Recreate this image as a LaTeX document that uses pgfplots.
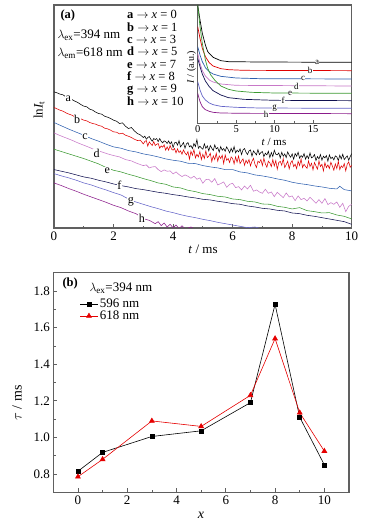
\documentclass[border=0pt]{standalone}
\usepackage{fontspec}
\setmainfont{Liberation Serif}
\usepackage{pgfplots}
\pgfplotsset{compat=1.18}
\definecolor{cA}{HTML}{000000}
\definecolor{cB}{HTML}{E00000}
\definecolor{cC}{HTML}{2E5FAF}
\definecolor{cD}{HTML}{C878C8}
\definecolor{cE}{HTML}{3C9A32}
\definecolor{cF}{HTML}{101050}
\definecolor{cG}{HTML}{6464C8}
\definecolor{cH}{HTML}{8B1C8B}
\definecolor{frame}{HTML}{606060}
\pgfplotsset{
  myframe/.style={
    axis line style={draw=frame, line width=1.1pt},
    tick style={draw=frame, line width=0.7pt},
    major tick length=3.8pt, minor tick length=2.2pt,
    tick align=inside,
    /pgf/number format/assume math mode=true,
  },
}
\begin{document}
\begin{tikzpicture}[x=1pt,y=1pt]
\path[use as bounding box] (0,0) rectangle (379,531);
% ---------------- panel (a) main ----------------
\begin{axis}[myframe, at={(54pt,303pt)}, anchor=south west, scale only axis,
  width=297.7pt, height=223pt, xmin=0, xmax=10, ymin=-683, ymax=-15,
  xtick={0,2,...,10}, minor x tick num=1, ytick=\empty, xtick pos=left,
  ticklabel style={font=\fontsize{13}{14}\selectfont},
  every axis plot/.append style={line width=0.55pt, mark=none}]
\addplot[cA] coordinates {(0.0,-275)(0.1,-278)(0.2,-282)(0.3,-284)(0.4,-290)(0.5,-295)(0.6,-298)(0.7,-303)(0.8,-307)(0.9,-313)(1.0,-318)(1.1,-320)(1.2,-327)(1.3,-330)(1.4,-336)(1.5,-340)(1.6,-342)(1.7,-348)(1.8,-351)(1.9,-355)(2.0,-360)(2.1,-363)(2.2,-370)(2.3,-368)(2.4,-378)(2.5,-385)(2.6,-382)(2.7,-392)(2.8,-400)(2.9,-404)
(3.00,-412)(3.05,-408)(3.10,-417)(3.15,-412)(3.20,-409)(3.25,-417)(3.30,-423)(3.35,-415)(3.40,-418)(3.45,-415)(3.50,-424)(3.55,-415)(3.60,-423)(3.65,-428)(3.70,-422)(3.75,-424)(3.80,-430)(3.85,-422)(3.90,-431)(3.95,-425)
(4.00,-442)(4.05,-428)(4.10,-426)(4.15,-435)(4.20,-421)(4.25,-440)(4.30,-434)(4.35,-427)(4.40,-444)(4.45,-431)(4.50,-427)(4.55,-440)(4.60,-436)(4.65,-445)(4.70,-430)(4.75,-439)(4.80,-418)(4.85,-444)(4.90,-438)(4.95,-443)
(5.00,-447)(5.05,-431)(5.10,-444)(5.15,-437)(5.20,-452)(5.25,-436)(5.30,-444)(5.35,-451)(5.40,-434)(5.45,-446)(5.50,-442)(5.55,-456)(5.60,-439)(5.65,-450)(5.70,-445)(5.75,-453)(5.80,-440)(5.85,-448)(5.90,-458)(5.95,-444)
(6.00,-455)(6.05,-439)(6.10,-458)(6.15,-450)(6.20,-455)(6.25,-446)(6.30,-463)(6.35,-449)(6.40,-445)(6.45,-456)(6.50,-463)(6.55,-452)(6.60,-449)(6.65,-468)(6.70,-452)(6.75,-458)(6.80,-464)(6.85,-448)(6.90,-463)(6.95,-457)
(7.00,-454)(7.05,-469)(7.10,-459)(7.15,-464)(7.20,-453)(7.25,-472)(7.30,-457)(7.35,-469)(7.40,-450)(7.45,-462)(7.50,-464)(7.55,-458)(7.60,-473)(7.65,-456)(7.70,-468)(7.75,-461)(7.80,-472)(7.85,-455)(7.90,-465)(7.95,-471)
(8.00,-461)(8.05,-477)(8.10,-460)(8.15,-468)(8.20,-456)(8.25,-474)(8.30,-466)(8.35,-471)(8.40,-460)(8.45,-477)(8.50,-466)(8.55,-475)(8.60,-458)(8.65,-473)(8.70,-470)(8.75,-463)(8.80,-481)(8.85,-469)(8.90,-476)(8.95,-463)
(9.00,-480)(9.05,-468)(9.10,-473)(9.15,-466)(9.20,-483)(9.25,-464)(9.30,-475)(9.35,-471)(9.40,-479)(9.45,-467)(9.50,-470)(9.55,-481)(9.60,-465)(9.65,-476)(9.70,-462)(9.75,-478)(9.80,-472)(9.85,-467)(9.90,-480)(9.95,-469)(10.0,-460)};
\addplot[cB] coordinates {(0.0,-322)(0.1,-326)(0.2,-330)(0.3,-333)(0.4,-338)(0.5,-342)(0.6,-345)(0.7,-350)(0.8,-354)(0.9,-356)(1.0,-360)(1.1,-362)(1.2,-367)(1.3,-370)(1.4,-372)(1.5,-376)(1.6,-378)(1.7,-384)(1.8,-386)(1.9,-390)(2.0,-395)(2.1,-396)(2.2,-401)(2.3,-399)(2.4,-405)(2.5,-408)(2.6,-412)(2.7,-417)(2.8,-421)(2.9,-420)
(3.00,-431)(3.05,-424)(3.10,-421)(3.15,-438)(3.20,-425)(3.25,-431)(3.30,-436)(3.35,-424)(3.40,-436)(3.45,-432)(3.50,-430)(3.55,-444)(3.60,-437)(3.65,-441)(3.70,-434)(3.75,-450)(3.80,-440)(3.85,-450)(3.90,-436)(3.95,-447)
(4.00,-450)(4.05,-445)(4.10,-458)(4.15,-446)(4.20,-457)(4.25,-452)(4.30,-462)(4.35,-449)(4.40,-458)(4.45,-464)(4.50,-454)(4.55,-477)(4.60,-453)(4.65,-465)(4.70,-448)(4.75,-473)(4.80,-462)(4.85,-470)(4.90,-454)(4.95,-478)
(5.00,-462)(5.05,-475)(5.10,-452)(5.15,-472)(5.20,-468)(5.25,-459)(5.30,-484)(5.35,-467)(5.40,-478)(5.45,-459)(5.50,-483)(5.55,-467)(5.60,-475)(5.65,-465)(5.70,-490)(5.75,-464)(5.80,-480)(5.85,-475)(5.90,-487)(5.95,-470)
(6.00,-475)(6.05,-491)(6.10,-470)(6.15,-486)(6.20,-467)(6.25,-490)(6.30,-482)(6.35,-476)(6.40,-495)(6.45,-480)(6.50,-489)(6.55,-478)(6.60,-497)(6.65,-483)(6.70,-474)(6.75,-492)(6.80,-502)(6.85,-483)(6.90,-487)(6.95,-478)
(7.00,-496)(7.05,-474)(7.10,-491)(7.15,-501)(7.20,-483)(7.25,-488)(7.30,-499)(7.35,-478)(7.40,-497)(7.45,-481)(7.50,-507)(7.55,-487)(7.60,-483)(7.65,-495)(7.70,-475)(7.75,-502)(7.80,-493)(7.85,-483)(7.90,-506)(7.95,-488)
(8.00,-481)(8.05,-499)(8.10,-492)(8.15,-505)(8.20,-483)(8.25,-496)(8.30,-476)(8.35,-502)(8.40,-492)(8.45,-499)(8.50,-504)(8.55,-482)(8.60,-499)(8.65,-489)(8.70,-509)(8.75,-487)(8.80,-497)(8.85,-507)(8.90,-482)(8.95,-499)
(9.00,-492)(9.05,-512)(9.10,-487)(9.15,-502)(9.20,-494)(9.25,-505)(9.30,-486)(9.35,-497)(9.40,-510)(9.45,-491)(9.50,-505)(9.55,-483)(9.60,-508)(9.65,-497)(9.70,-502)(9.75,-490)(9.80,-512)(9.85,-492)(9.90,-485)(9.95,-501)(10.0,-495)};
\addplot[cC] coordinates {(0,-367)(0.25,-377)(0.5,-387)(0.75,-396)(1.0,-405)(1.25,-415)(1.5,-423)(1.75,-432)(2.0,-440)(2.25,-444)(2.5,-451)(2.75,-455)(3.0,-461)(3.25,-465)(3.5,-470)(3.75,-476)(4.0,-480)(4.25,-483)(4.5,-489)(4.75,-490)(5.0,-496)(5.25,-500)(5.5,-503)(5.75,-508)(6.0,-508)(6.25,-515)(6.5,-518)(6.75,-524)(7.0,-527)(7.25,-531)(7.5,-536)(7.75,-540)(8.0,-546)(8.25,-550)(8.5,-553)(8.75,-557)(9.0,-560)(9.25,-564)(9.5,-566)(9.6,-558)(9.75,-568)(10.0,-572)};
\addplot[cD] coordinates {(0,-398)(0.2,-406)(0.4,-413)(0.6,-420)(0.8,-428)(1.0,-435)(1.2,-442)(1.4,-450)(1.6,-455)(1.8,-461)(2.0,-466)(2.2,-470)(2.4,-478)(2.6,-482)(2.8,-490)
(3.0,-496)(3.1,-494)(3.2,-503)(3.3,-500)(3.4,-499)(3.5,-508)(3.6,-514)(3.7,-509)(3.8,-513)(3.9,-512)(4.0,-521)(4.1,-515)(4.2,-523)(4.3,-529)(4.4,-524)(4.5,-528)(4.6,-534)(4.7,-528)(4.8,-537)(4.9,-533)
(5.0,-549)(5.1,-538)(5.2,-537)(5.3,-546)(5.4,-535)(5.5,-554)(5.6,-550)(5.7,-545)(5.8,-561)(5.9,-552)(6.0,-549)(6.1,-562)(6.2,-559)(6.3,-569)(6.4,-557)(6.5,-566)(6.6,-555)(6.7,-573)(6.8,-569)(6.9,-575)
(7.0,-579)(7.1,-567)(7.2,-579)(7.3,-575)(7.4,-589)(7.5,-576)(7.6,-584)(7.7,-592)(7.8,-578)(7.9,-590)(8.0,-587)(8.1,-601)(8.2,-587)(8.3,-598)(8.4,-594)(8.5,-602)(8.6,-591)(8.7,-600)(8.8,-609)(8.9,-598)
(9.0,-609)(9.1,-595)(9.2,-613)(9.3,-607)(9.4,-612)(9.5,-605)(9.6,-621)(9.7,-609)(9.8,-634)(9.9,-618)(10.0,-612)};
\addplot[cE] coordinates {(0,-447)(0.25,-454)(0.5,-461)(0.75,-468)(1.0,-475)(1.25,-483)(1.5,-491)(1.75,-502)(2.0,-510)(2.25,-515)(2.5,-522)(2.75,-528)(3.0,-535)(3.25,-541)(3.5,-548)(3.75,-552)(4.0,-560)(4.25,-563)(4.5,-570)(4.75,-574)(5.0,-580)(5.25,-583)(5.5,-588)(5.75,-590)(6.0,-596)(6.25,-598)(6.5,-603)(6.75,-605)(7.0,-611)(7.25,-612)(7.5,-618)(7.75,-621)(8.0,-626)(8.25,-622)(8.5,-631)(8.75,-634)(9.0,-638)(9.25,-637)(9.5,-644)(9.75,-648)(10.0,-656)};
\addplot[cF] coordinates {(0,-508)(0.25,-513)(0.5,-518)(0.75,-524)(1.0,-530)(1.25,-534)(1.5,-540)(1.75,-545)(2.0,-551)(2.25,-556)(2.5,-560)(2.75,-565)(3.0,-568)(3.25,-572)(3.5,-576)(3.75,-579)(4.0,-583)(4.25,-586)(4.5,-590)(4.75,-593)(5.0,-597)(5.25,-599)(5.5,-603)(5.75,-606)(6.0,-610)(6.25,-612)(6.5,-617)(6.75,-620)(7.0,-624)(7.25,-626)(7.5,-630)(7.75,-632)(8.0,-638)(8.25,-640)(8.5,-645)(8.75,-648)(9.0,-652)(9.25,-656)(9.5,-660)(9.75,-664)(10.0,-672)};
\addplot[cG] coordinates {(0,-520)(0.25,-527)(0.5,-533)(0.75,-540)(1.0,-548)(1.25,-554)(1.5,-562)(1.75,-569)(2.0,-577)(2.25,-584)(2.5,-596)(2.75,-605)(3.0,-612)(3.25,-619)(3.5,-625)(3.75,-632)(4.0,-637)(4.25,-643)(4.5,-648)(4.75,-652)(5.0,-657)(5.25,-661)(5.5,-666)(5.75,-670)(6.0,-674)(6.25,-678)(6.5,-682)(6.75,-680)(7.0,-686)};
\addplot[cH] coordinates {(0,-548)(0.25,-556)(0.5,-565)(0.75,-573)(1.0,-582)(1.25,-590)(1.5,-598)(1.75,-606)(2.0,-615)(2.25,-622)(2.5,-632)(2.75,-640)(3.0,-655)(3.2,-660)(3.4,-670)(3.5,-664)(3.6,-676)(3.7,-668)(3.8,-680)(3.9,-672)(4.0,-682)(4.1,-674)(4.2,-685)(4.3,-676)(4.4,-686)(4.6,-680)(4.8,-690)};
\begin{scope}[every node/.style={fill=white, inner sep=0.6pt, font=\fontsize{12}{13}\selectfont}]
\node at (axis cs:0.48,-297) {a};
\node at (axis cs:0.78,-357) {b};
\node at (axis cs:1.04,-410) {c};
\node at (axis cs:1.43,-460) {d};
\node at (axis cs:1.79,-510) {e};
\node at (axis cs:2.20,-555) {f};
\node at (axis cs:2.58,-603) {g};
\node at (axis cs:2.95,-655) {h};
\end{scope}
\end{axis}
% ---------------- inset ----------------
\begin{axis}[myframe, at={(197.7pt,408pt)}, anchor=south west, scale only axis,
  width=154pt, height=118pt, xmin=0, xmax=20, ymin=-369, ymax=-15,
  axis background/.style={fill=white},
  axis line style={draw=frame, line width=0.9pt},
  xtick={0,5,10,15}, minor x tick num=1, ytick=\empty, xtick pos=left,
  major tick length=3pt, minor tick length=1.8pt,
  ticklabel style={font=\fontsize{10.5}{11}\selectfont},
  xticklabel style={yshift=1pt},
  every axis plot/.append style={line width=0.7pt, mark=none}]
\addplot[cA] coordinates {(0,-15)(0.3,-60)(0.6,-100)(1,-135)(1.3,-155)(2,-172)(3,-182)(4,-185)(8,-186)(20,-187)};
\addplot[cB] coordinates {(0,-80)(0.3,-115)(0.6,-145)(1,-170)(1.5,-188)(2,-198)(3,-206)(4,-209)(6,-211)(20,-212)};
\addplot[cC] coordinates {(0,-140)(0.3,-165)(0.6,-185)(1,-203)(1.5,-215)(2,-222)(3,-229)(5,-234)(8,-236)(20,-237)};
\addplot[cD] coordinates {(0,-160)(0.3,-190)(0.6,-212)(1,-228)(1.5,-240)(2,-246)(3,-252)(5,-256)(20,-258)};
\addplot[cE] coordinates {(0,-15)(0.3,-80)(0.6,-130)(1,-180)(1.3,-205)(1.7,-225)(2.2,-240)(3,-258)(4,-268)(5,-273)(7,-277)(10,-279)(20,-280)};
\addplot[cF] coordinates {(0,-175)(0.3,-200)(0.6,-222)(1,-243)(1.5,-260)(2,-272)(3,-285)(4,-293)(6,-298)(10,-301)(20,-302)};
\addplot[cG] coordinates {(0,-245)(0.3,-270)(0.6,-288)(1,-300)(1.5,-309)(2,-314)(3,-319)(5,-322)(8,-324)(20,-325)};
\addplot[cH] coordinates {(0,-280)(0.3,-305)(0.6,-320)(1,-329)(1.5,-334)(2,-337)(3,-339)(6,-340)(20,-341)};
\begin{scope}[every node/.style={fill=white, inner sep=0.3pt, font=\fontsize{9}{10}\selectfont}]
\node at (axis cs:15.5,-186) {a};
\node at (axis cs:14.6,-212) {b};
\node at (axis cs:13.7,-236) {c};
\node at (axis cs:12.8,-259) {d};
\node at (axis cs:12.0,-280) {e};
\node at (axis cs:11.1,-301) {f};
\node at (axis cs:10.0,-325) {g};
\node at (axis cs:8.9,-342) {h};
\end{scope}
\end{axis}
% texts panel (a)
\node[font=\fontsize{10}{11}\selectfont, rotate=90] at (191.5,464) {\textit{I} / (a.u.)};
\node[font=\fontsize{11}{12}\selectfont] at (274,389) {\textit{t} / ms};
\node[font=\fontsize{13}{14}\selectfont] at (203,282) {\textit{t} / ms};
\node[font=\fontsize{13}{14}\selectfont, rotate=90] at (39,421) {ln\textit{I}\textsubscript{t}};
\node[font=\fontsize{12.5}{13}\selectfont\bfseries, anchor=base west] at (57,512) {(a)};
\node[font=\fontsize{13}{14}\selectfont, anchor=base west] at (54,492) {$\lambda_{\mathrm{ex}}$=394 nm};
\node[font=\fontsize{13}{14}\selectfont, anchor=base west] at (54,474) {$\lambda_{\mathrm{em}}$=618 nm};
\begin{scope}[every node/.style={font=\fontsize{12.5}{13}\selectfont, anchor=base west, inner sep=0pt}]
\node at (127,512.0) {\textbf{a} $\rightarrow$ \textit{x} = 0};
\node at (127,499.7) {\textbf{b} $\rightarrow$ \textit{x} = 1};
\node at (127,487.4) {\textbf{c} $\rightarrow$ \textit{x} = 3};
\node at (127,475.1) {\textbf{d} $\rightarrow$ \textit{x} = 5};
\node at (127,462.8) {\textbf{e} $\rightarrow$ \textit{x} = 7};
\node at (127,450.5) {\textbf{f} $\rightarrow$ \textit{x} = 8};
\node at (127,438.2) {\textbf{g} $\rightarrow$ \textit{x} = 9};
\node at (127,425.9) {\textbf{h} $\rightarrow$ \textit{x} = 10};
\end{scope}
% ---------------- panel (b) ----------------
\begin{axis}[myframe, at={(53.3pt,38.7pt)}, anchor=south west, scale only axis,
  width=295.7pt, height=219.6pt, xmin=-1, xmax=11, ymin=0.7, ymax=1.9,
  xtick={0,2,...,10}, ytick={0.8,1.0,1.2,1.4,1.6,1.8}, minor x tick num=1, minor y tick num=1,
  tick pos=left,
  yticklabel style={/pgf/number format/fixed, /pgf/number format/fixed zerofill, /pgf/number format/precision=1},
  ticklabel style={font=\fontsize{13}{14}\selectfont},
  legend style={draw=none, fill=none, at={(0.08,0.90)}, anchor=north west,
    font=\fontsize{13}{14}\selectfont, row sep=-2pt},
  legend cell align=left]
\addplot[black, line width=0.6pt, mark=square*, mark size=2pt] coordinates {(0,0.815)(1,0.918)(3,1.005)(5,1.036)(7,1.19)(8,1.727)(9,1.11)(10,0.85)};
\addlegendentry{596 nm}
\addplot[red!90!black, line width=0.6pt, mark=triangle*, mark size=2.8pt, mark options={fill=red!90!black}] coordinates {(0,0.785)(1,0.88)(3,1.09)(5,1.06)(7,1.23)(8,1.54)(9,1.135)(10,0.925)};
\addlegendentry{618 nm}
\end{axis}
\node[font=\fontsize{12.5}{13}\selectfont\bfseries, anchor=base west] at (59,244) {(b)};
\node[font=\fontsize{13}{14}\selectfont, anchor=base west] at (86,239) {$\lambda_{\mathrm{ex}}$=394 nm};
\node[font=\fontsize{14}{15}\selectfont] at (201,16) {\textit{x}};
\node[font=\fontsize{14}{15}\selectfont, rotate=90] at (17,128) {$\tau$ / ms};
\end{tikzpicture}
\end{document}
